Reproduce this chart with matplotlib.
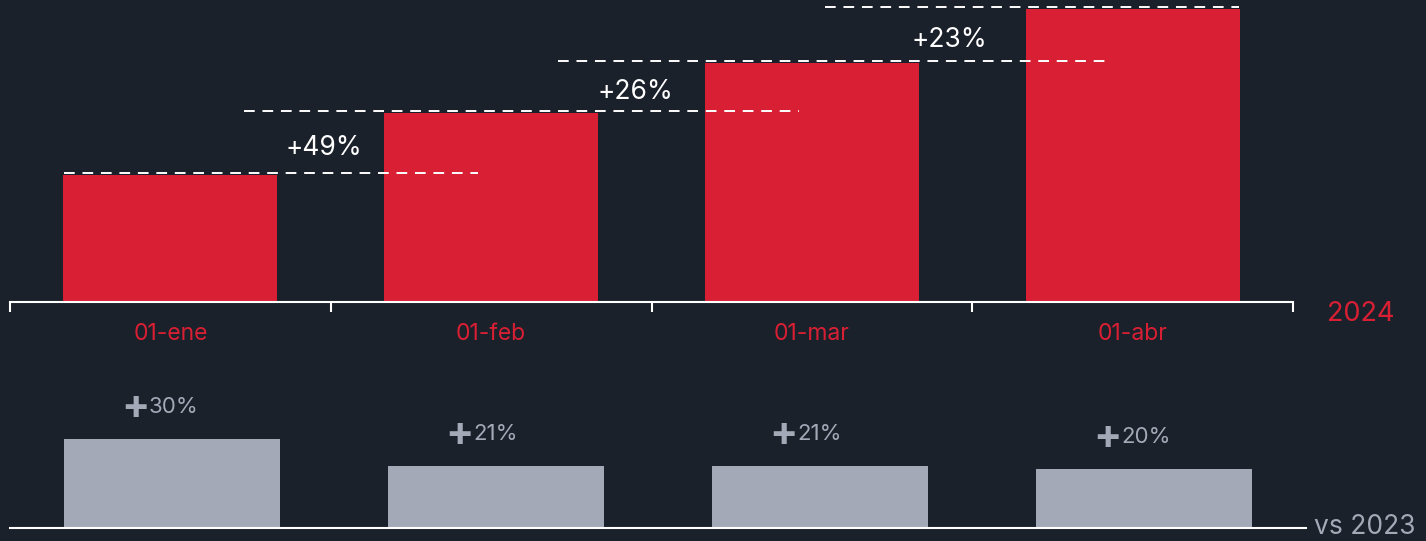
import matplotlib
matplotlib.use("Agg")
import matplotlib.pyplot as plt
import numpy as np

plt.rcParams["font.family"] = ["Inter", "DejaVu Sans"]

BG = "#1b212b"
RED = "#d91f33"
GRAY = "#a3a9b7"
W, H = 1426, 541

months = ["01-ene", "01-feb", "01-mar", "01-abr"]
values_2024 = [100, 149, 188, 231]
growth_mom = ["+49%", "+26%", "+23%"]
growth_yoy = [30, 21, 21, 20]
yoy_labels = ["30%", "21%", "21%", "20%"]

# dashed guide extents (category units, relative to each bar)
dash_start = [-0.333, -0.77, -0.79, -0.96]
dash_end = [0.96, 0.96, 0.93, 0.333]
# label x offsets between bars
mom_dx = [0.48, 0.45, 0.43]

fig = plt.figure(figsize=(W / 100, H / 100), dpi=100, facecolor=BG)

# --- top: 2024 values ---
ax = fig.add_axes([10 / W, (H - 302) / H, 1283 / W, 302 / H])
ax.set_facecolor(BG)
x = np.arange(len(months))
ax.bar(x, values_2024, width=0.667, color=RED, zorder=2)
for i, v in enumerate(values_2024):
    ax.plot([i + dash_start[i], i + dash_end[i]], [v + 1.5, v + 1.5], color="white",
            lw=1.4, dashes=(5.5, 4), zorder=3)
for i, lab in enumerate(growth_mom):
    ax.annotate(lab, xy=(i + mom_dx[i], (values_2024[i] + values_2024[i + 1]) / 2),
                xytext=(0, -4), textcoords="offset pixels", color="white",
                fontsize=19, ha="center", va="center")
ax.set_xlim(-0.5, 3.5)
ax.set_ylim(0, 302 / 1.27)
for s in ["top", "left", "right"]:
    ax.spines[s].set_visible(False)
ax.spines["bottom"].set_color("white")
ax.spines["bottom"].set_linewidth(1.5)
ax.set_yticks([])
ax.set_xticks(np.arange(-0.5, 4, 1))
ax.set_xticklabels([])
ax.tick_params(axis="x", which="major", length=7, width=1.5, color="white")
ax.set_xticks(x, minor=True)
ax.set_xticklabels(months, minor=True)
ax.tick_params(axis="x", which="minor", length=0, pad=15, labelcolor=RED, labelsize=16.5)

# --- bottom: growth vs 2023 ---
ax2 = fig.add_axes([10 / W, (H - 528) / H, 1296 / W, 148 / H])
ax2.set_facecolor(BG)
ax2.bar(x, growth_yoy, width=0.667, color=GRAY, zorder=2)
for i, v in enumerate(growth_yoy):
    ax2.annotate("+", xy=(i, v), xytext=(-22, 31), textcoords="offset pixels",
                 ha="right", va="center", color=GRAY, fontsize=30, fontweight="bold")
    ax2.annotate(yoy_labels[i], xy=(i, v), xytext=(-23, 32), textcoords="offset pixels",
                 ha="left", va="center", color=GRAY, fontsize=16)
ax2.set_xlim(-0.5, 3.5)
ax2.set_ylim(0, 148 / 2.967)
for s in ["top", "left", "right"]:
    ax2.spines[s].set_visible(False)
ax2.spines["bottom"].set_color("white")
ax2.spines["bottom"].set_linewidth(1.5)
ax2.set_xticks([])
ax2.set_yticks([])

fig.text(1361 / W, (H - 314) / H, "2024", color=RED, fontsize=19.5, ha="center", va="center")
fig.text(1365 / W, (H - 527) / H, "vs 2023", color=GRAY, fontsize=19, ha="center", va="center")

fig.savefig("out.png", dpi=100, facecolor=BG)
